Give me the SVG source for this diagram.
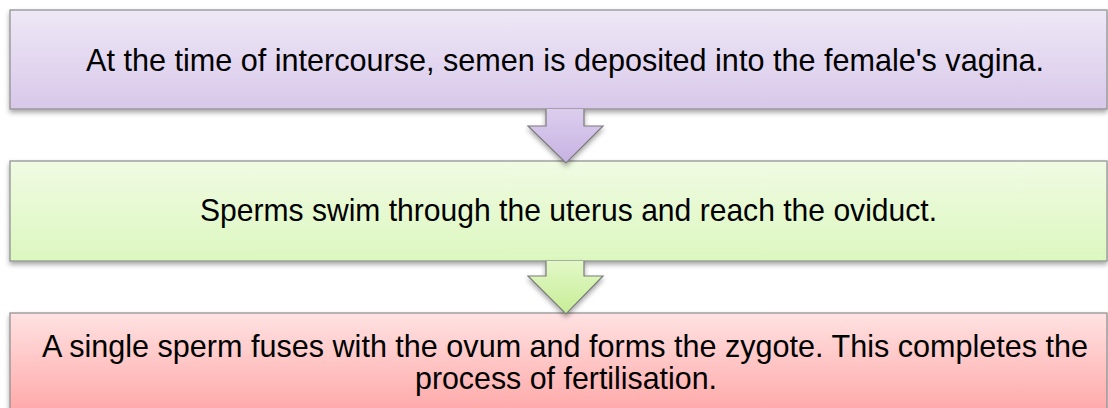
<svg xmlns="http://www.w3.org/2000/svg" width="1108" height="408" viewBox="0 0 1108 408">
<defs>
<linearGradient id="gP" x1="0" y1="0" x2="0" y2="1"><stop offset="0" stop-color="#eee8f6"/><stop offset="1" stop-color="#d8c8ea"/></linearGradient>
<linearGradient id="gG" x1="0" y1="0" x2="0" y2="1"><stop offset="0" stop-color="#f0fbe3"/><stop offset="1" stop-color="#dcf7bf"/></linearGradient>
<linearGradient id="gR" x1="0" y1="0" x2="0" y2="1"><stop offset="0" stop-color="#ffe2e2"/><stop offset="1" stop-color="#ffa2a2"/></linearGradient>
<linearGradient id="aP" x1="0" y1="0" x2="0" y2="1"><stop offset="0" stop-color="#dccdee"/><stop offset="1" stop-color="#c7b2e2"/></linearGradient>
<linearGradient id="aG" x1="0" y1="0" x2="0" y2="1"><stop offset="0" stop-color="#e2f8c6"/><stop offset="1" stop-color="#c6ed96"/></linearGradient>
<filter id="sh" x="-5%" y="-20%" width="110%" height="150%"><feDropShadow dx="0" dy="3" stdDeviation="2.5" flood-color="#000" flood-opacity="0.35"/></filter>
</defs>
<style>
.box{stroke:#8c8c8c;stroke-width:1.2;filter:url(#sh)}
.arr{stroke:#7a7a7a;stroke-width:1.2;filter:url(#sh)}
text{font-family:"Liberation Sans",Arial,sans-serif;font-size:30.5px;fill:#000;text-anchor:middle}
</style>
<g id="node1"><rect class="box" x="10" y="10" width="1097" height="99" fill="url(#gP)"/><text x="565" y="71" textLength="958" lengthAdjust="spacingAndGlyphs">At the time of intercourse, semen is deposited into the female's vagina.</text></g>
<g id="node2"><rect class="box" x="10" y="161" width="1097" height="100" fill="url(#gG)"/><text x="568.5" y="221" textLength="737" lengthAdjust="spacingAndGlyphs">Sperms swim through the uterus and reach the oviduct.</text></g>
<g id="node3"><rect class="box" x="10" y="313" width="1097" height="110" fill="url(#gR)"/><text x="565" y="357" textLength="1046" lengthAdjust="spacingAndGlyphs">A single sperm fuses with the ovum and forms the zygote. This completes the</text><text x="566" y="389" textLength="302" lengthAdjust="spacingAndGlyphs">process of fertilisation.</text></g>
<g id="connectors">
<path class="arr" d="M546,109 V126 H528 L566,163 L603,126 H584 V109" fill="url(#aP)"/>
<path class="arr" d="M546,261 V276 H528 L566,314 L603,276 H584 V261" fill="url(#aG)"/>
</g>
</svg>
